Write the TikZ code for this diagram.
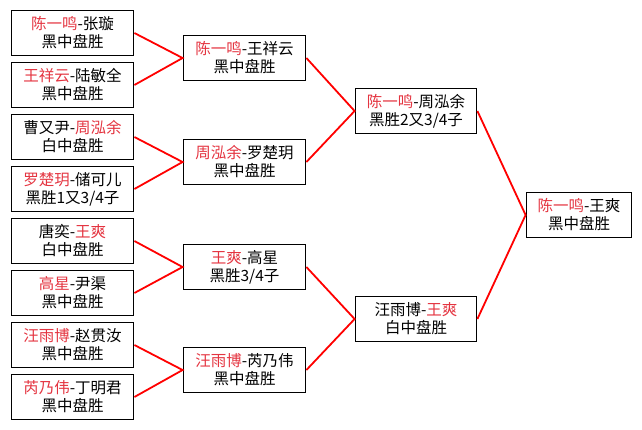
\documentclass[tikz,border=0pt]{standalone}
\usepackage{fontspec}
\newfontfamily\cjk{Noto Sans CJK SC}
\definecolor{wincol}{RGB}{228,52,64}
\newcommand{\wn}[1]{\textcolor{wincol}{#1}}

\begin{document}
\begin{tikzpicture}[x=1pt,y=-1pt,
  box/.style={draw,line width=1.8pt,inner sep=0pt,minimum height=45pt,align=center,font=\cjk\fontsize{15.5}{18}\selectfont},
  link/.style={red,line width=1.8pt}]

\useasboundingbox (0,0) rectangle (642,429);

% first round
\node[box,minimum width=122pt] (R1) at (72.5,33) {\wn{陈一鸣}-张璇\\黑中盘胜};
\node[box,minimum width=122pt] (R2) at (72.5,85) {\wn{王祥云}-陆敏全\\黑中盘胜};
\node[box,minimum width=122pt] (R3) at (72.5,137) {曹又尹-\wn{周泓余}\\白中盘胜};
\node[box,minimum width=122pt] (R4) at (72.5,189) {\wn{罗楚玥}-储可儿\\黑胜1又3/4子};
\node[box,minimum width=122pt] (R5) at (72.5,241) {唐奕-\wn{王爽}\\白中盘胜};
\node[box,minimum width=122pt] (R6) at (72.5,293) {\wn{高星}-尹渠\\黑中盘胜};
\node[box,minimum width=122pt] (R7) at (72.5,345) {\wn{汪雨博}-赵贯汝\\黑中盘胜};
\node[box,minimum width=122pt] (R8) at (72.5,397) {\wn{芮乃伟}-丁明君\\黑中盘胜};

% quarter finals
\node[box,minimum width=122pt] (Q1) at (244.5,58) {\wn{陈一鸣}-王祥云\\黑中盘胜};
\node[box,minimum width=122pt] (Q2) at (244.5,162) {\wn{周泓余}-罗楚玥\\黑中盘胜};
\node[box,minimum width=122pt] (Q3) at (244.5,267) {\wn{王爽}-高星\\黑胜3/4子};
\node[box,minimum width=122pt] (Q4) at (244.5,370) {\wn{汪雨博}-芮乃伟\\黑中盘胜};

% semi finals
\node[box,minimum width=121pt] (S1) at (416,111) {\wn{陈一鸣}-周泓余\\黑胜2又3/4子};
\node[box,minimum width=121pt] (S2) at (416,319) {汪雨博-\wn{王爽}\\白中盘胜};

% final
\node[box,minimum width=105pt] (F) at (579,215) {\wn{陈一鸣}-王爽\\黑中盘胜};

\draw[link] (R1.east) -- (Q1.west) -- (R2.east);
\draw[link] (R3.east) -- (Q2.west) -- (R4.east);
\draw[link] (R5.east) -- (Q3.west) -- (R6.east);
\draw[link] (R7.east) -- (Q4.west) -- (R8.east);

\draw[link] (Q1.east) -- (S1.west) -- (Q2.east);
\draw[link] (Q3.east) -- (S2.west) -- (Q4.east);

\draw[link] (S1.east) -- (F.west) -- (S2.east);

\end{tikzpicture}
\end{document}
